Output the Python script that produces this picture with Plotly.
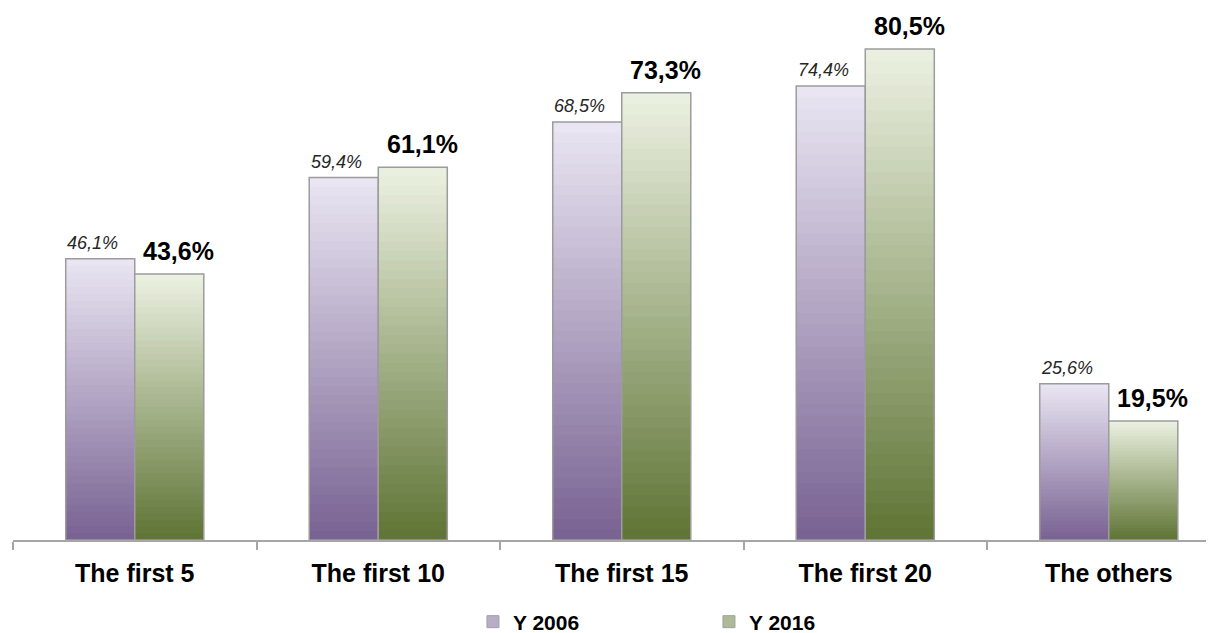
import numpy as np
import plotly.graph_objects as go

categories = ["The first 5", "The first 10", "The first 15", "The first 20", "The others"]
y2006 = [46.1, 59.4, 68.5, 74.4, 25.6]
y2016 = [43.6, 61.1, 73.3, 80.5, 19.5]
series_names = ["Y 2006", "Y 2016"]

FONT = "Liberation Sans, Arial, sans-serif"
N_STEPS = 40

# gradient ends: (bottom colour, top colour)
GRAD = {
    "Y 2006": ((121, 99, 147), (236, 232, 244)),
    "Y 2016": ((96, 117, 54), (238, 243, 228)),
}
# label styling per series: font, horizontal nudge from the category centre, lift
LABEL_STYLE = {
    "Y 2006": dict(font=dict(family=FONT, size=18, color="#262626", style="italic"),
                   xshift=-42, yshift=4, fmt="{}"),
    "Y 2016": dict(font=dict(family=FONT, size=25, color="#000000"),
                   xshift=44, yshift=7, fmt="<b>{}</b>"),
}


def mix(c0, c1, t):
    return "rgb({},{},{})".format(*[int(round(a + (b - a) * t)) for a, b in zip(c0, c1)])


fig = go.Figure()
annotations = []

for name, vals in zip(series_names, [y2006, y2016]):
    vals = np.array(vals)
    bot, top = GRAD[name]
    # layered bars: each one starts a bit higher and is a bit lighter -> vertical gradient
    for k in range(N_STEPS):
        t = k / N_STEPS
        fig.add_trace(go.Bar(
            x=categories, y=vals * (1 - t), base=vals * t,
            offsetgroup=name,
            marker=dict(color=mix(bot, top, t), line=dict(width=0)),
            showlegend=False, hoverinfo="skip",
        ))
    # outline
    fig.add_trace(go.Bar(
        x=categories, y=vals, offsetgroup=name,
        marker=dict(color="rgba(0,0,0,0)", line=dict(color="#9c9c9c", width=1.5)),
        showlegend=False, hoverinfo="skip",
    ))
    # legend entry
    fig.add_trace(go.Bar(
        x=[categories[0]], y=[None], name=f"<b>{name}</b>", offsetgroup=name,
        marker=dict(color=mix(bot, top, 0.55), line=dict(color="#a0a0a0", width=1)),
        showlegend=True, hoverinfo="skip",
    ))
    st = LABEL_STYLE[name]
    for c, v in zip(categories, vals):
        annotations.append(dict(
            x=c, y=v, xref="x", yref="y",
            text=st["fmt"].format(f"{v:.1f}%".replace(".", ",")),
            showarrow=False, yanchor="bottom", xanchor="center",
            xshift=st["xshift"], yshift=st["yshift"], font=st["font"],
        ))

fig.update_layout(
    width=1214, height=633,
    barmode="group", bargap=0.433, bargroupgap=0,
    plot_bgcolor="white", paper_bgcolor="white",
    margin=dict(l=5, r=0, t=0, b=101),
    font=dict(family=FONT, color="#000000"),
    annotations=annotations,
    xaxis=dict(
        range=[-0.5, 4.465],
        showline=True, linecolor="#a6a6a6", linewidth=1.5,
        ticks="outside", tickson="boundaries", ticklen=8, tickcolor="#a6a6a6",
        tickwidth=1.5, ticklabelstandoff=10,
        tickfont=dict(family=FONT, size=25, color="#000000", weight="bold"),
        showgrid=False,
    ),
    yaxis=dict(range=[0, 87.2], visible=False, showgrid=False),
    legend=dict(
        orientation="h", xref="container", yref="container",
        x=0.383, xanchor="left", y=0.03, yanchor="middle",
        entrywidth=191, font=dict(family=FONT, size=21, color="#000000"),
        traceorder="normal", itemwidth=30,
    ),
)

fig.write_html("out.html")
